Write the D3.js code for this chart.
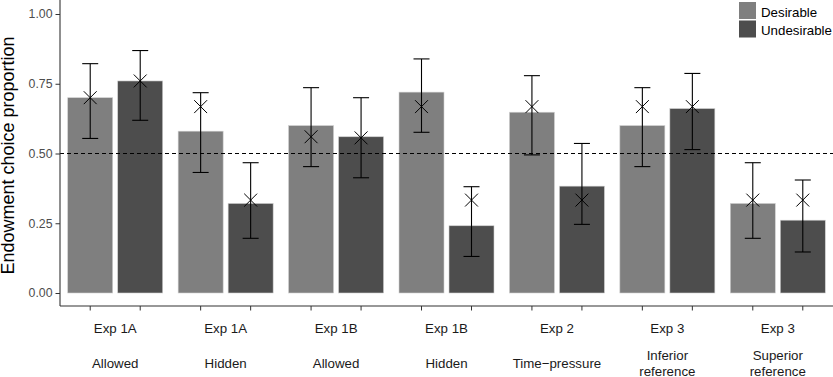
<!DOCTYPE html>
<html>
<head>
    <meta charset="utf-8">
    <script src="https://d3js.org/d3.v7.min.js"></script>
    <style>
        body { margin: 0; background: #fff; }
        svg { font-family: "Liberation Sans", Arial, sans-serif; display: block; }
    </style>
</head>
<body>
<div id="chart"></div>
<script>
    // categories (two-line x labels: experiment / condition)
    var experiments = ["Exp 1A", "Exp 1A", "Exp 1B", "Exp 1B", "Exp 2", "Exp 3", "Exp 3"];
    var conditions = [["Allowed"], ["Hidden"], ["Allowed"], ["Hidden"], ["Time\u2212pressure"],
                      ["Inferior", "reference"], ["Superior", "reference"]];
    var series = ["Desirable", "Undesirable"];

    // bar heights
    var desirable   = [0.70, 0.58, 0.60, 0.72, 0.648, 0.60, 0.321];
    var undesirable = [0.76, 0.321, 0.56, 0.241, 0.383, 0.661, 0.261];
    // error bars
    var desLow  = [0.554, 0.432, 0.453, 0.576, 0.495, 0.453, 0.196];
    var desHigh = [0.822, 0.718, 0.736, 0.839, 0.779, 0.736, 0.467];
    var undLow  = [0.619, 0.196, 0.413, 0.131, 0.246, 0.514, 0.147];
    var undHigh = [0.869, 0.467, 0.700, 0.381, 0.536, 0.787, 0.405];
    // "x" markers (expected proportion)
    var desMark = [0.70, 0.668, 0.56, 0.668, 0.668, 0.668, 0.333];
    var undMark = [0.76, 0.333, 0.556, 0.333, 0.333, 0.668, 0.333];

    var yTicks = [0, 0.25, 0.5, 0.75, 1];

    var width = 833, height = 377;
    // plot edges (note: "top" is reserved on window, so use prefixed names)
    var pLeft = 60, pRight = 833, pTop = 14, pBottom = 293, axisY = 306;

    var svg = d3.select("#chart").append("svg")
        .attr("width", width)
        .attr("height", height);

    var groups = d3.range(experiments.length);

    var x = d3.scaleBand()
        .domain(groups)
        .range([pLeft, pRight])
        .padding(0);

    var inner = d3.scaleBand()
        .domain(series)
        .range([x.bandwidth() / 2 - 50, x.bandwidth() / 2 + 50])
        .paddingInner(0.1)
        .paddingOuter(0.05);

    var y = d3.scaleLinear()
        .domain([0, 1])
        .range([pBottom, pTop]);

    var colors = { "Desirable": "#7f7f7f", "Undesirable": "#4d4d4d" };

    // build rows from the arrays
    var rows = [];
    groups.forEach(function(i) {
        rows.push({ g: i, s: "Desirable", v: desirable[i], lo: desLow[i], hi: desHigh[i], m: desMark[i] });
        rows.push({ g: i, s: "Undesirable", v: undesirable[i], lo: undLow[i], hi: undHigh[i], m: undMark[i] });
    });
    function cx(d) { return x(d.g) + inner(d.s) + inner.bandwidth() / 2; }

    // bars
    svg.selectAll("rect.bar")
        .data(rows)
        .enter()
        .append("rect")
        .attr("class", "bar")
        .attr("x", function(d) { return x(d.g) + inner(d.s); })
        .attr("y", function(d) { return y(d.v); })
        .attr("width", inner.bandwidth())
        .attr("height", function(d) { return y(0) - y(d.v); })
        .attr("fill", function(d) { return colors[d.s]; })
        .attr("stroke", "#d0d0d0")
        .attr("stroke-width", 0.6);

    // reference line at 0.5
    svg.append("line")
        .attr("x1", pLeft).attr("x2", pRight)
        .attr("y1", y(0.5)).attr("y2", y(0.5))
        .attr("stroke", "#000")
        .attr("stroke-width", 1.1)
        .attr("stroke-dasharray", "4,3");

    // error bars
    var eb = svg.selectAll("g.err")
        .data(rows)
        .enter()
        .append("g")
        .attr("class", "err")
        .attr("stroke", "#000")
        .attr("stroke-width", 1.1);
    eb.append("line")
        .attr("x1", cx).attr("x2", cx)
        .attr("y1", function(d) { return y(d.lo); })
        .attr("y2", function(d) { return y(d.hi); });
    eb.append("line")
        .attr("x1", function(d) { return cx(d) - 8; })
        .attr("x2", function(d) { return cx(d) + 8; })
        .attr("y1", function(d) { return y(d.hi); })
        .attr("y2", function(d) { return y(d.hi); });
    eb.append("line")
        .attr("x1", function(d) { return cx(d) - 8; })
        .attr("x2", function(d) { return cx(d) + 8; })
        .attr("y1", function(d) { return y(d.lo); })
        .attr("y2", function(d) { return y(d.lo); });

    // x markers
    svg.selectAll("path.mark")
        .data(rows)
        .enter()
        .append("path")
        .attr("class", "mark")
        .attr("d", d3.symbol().type(d3.symbolX).size(110))
        .attr("transform", function(d) { return "translate(" + cx(d) + "," + y(d.m) + ")"; })
        .attr("fill", "none")
        .attr("stroke", "#000")
        .attr("stroke-width", 1);

    // y axis
    var yAxis = svg.append("g")
        .attr("transform", "translate(" + pLeft + ",0)")
        .call(d3.axisLeft(y).tickValues(yTicks).tickFormat(d3.format(".2f")).tickSize(4.5).tickPadding(3));
    yAxis.select(".domain").remove();
    yAxis.selectAll(".tick line").attr("stroke", "#333");
    yAxis.selectAll(".tick text").attr("fill", "#4d4d4d").style("font-size", "12.3px")
        .style("font-family", "'Liberation Sans', Arial, sans-serif");
    svg.append("line")
        .attr("x1", pLeft).attr("x2", pLeft)
        .attr("y1", 0).attr("y2", axisY)
        .attr("stroke", "#333").attr("stroke-width", 1.1);

    // x axis
    svg.append("line")
        .attr("x1", pLeft).attr("x2", pRight)
        .attr("y1", axisY).attr("y2", axisY)
        .attr("stroke", "#333").attr("stroke-width", 1.1);
    svg.selectAll("line.xtick")
        .data(rows)
        .enter()
        .append("line")
        .attr("class", "xtick")
        .attr("x1", cx).attr("x2", cx)
        .attr("y1", axisY).attr("y2", axisY + 4.5)
        .attr("stroke", "#333");

    var labels = svg.selectAll("g.xlab")
        .data(groups)
        .enter()
        .append("g")
        .attr("class", "xlab")
        .attr("transform", function(i) { return "translate(" + (x(i) + x.bandwidth() / 2) + ",0)"; })
        .style("font-size", "13.3px")
        .attr("fill", "#1a1a1a")
        .attr("text-anchor", "middle");
    labels.append("text")
        .attr("y", 333)
        .text(function(i) { return experiments[i]; });
    labels.each(function(i) {
        var lines = conditions[i];
        var g = d3.select(this);
        lines.forEach(function(t, k) {
            g.append("text")
                .attr("y", 368 + (k - (lines.length - 1) / 2) * 16)
                .text(t);
        });
    });

    // y title
    svg.append("text")
        .attr("transform", "translate(14," + ((pTop + pBottom) / 2 + 2) + ") rotate(-90)")
        .attr("text-anchor", "middle")
        .style("font-size", "18px")
        .attr("fill", "#000")
        .text("Endowment choice proportion");

    // legend
    var legend = svg.selectAll("g.legend")
        .data(series)
        .enter()
        .append("g")
        .attr("class", "legend")
        .attr("transform", function(d, i) { return "translate(739," + (2 + i * 18.5) + ")"; });
    legend.append("rect")
        .attr("width", 17).attr("height", 17)
        .attr("fill", function(d) { return colors[d]; });
    legend.append("text")
        .attr("x", 22).attr("y", 14.5)
        .style("font-size", "13.3px")
        .attr("fill", "#000")
        .text(function(d) { return d; });
</script>
</body>
</html>
